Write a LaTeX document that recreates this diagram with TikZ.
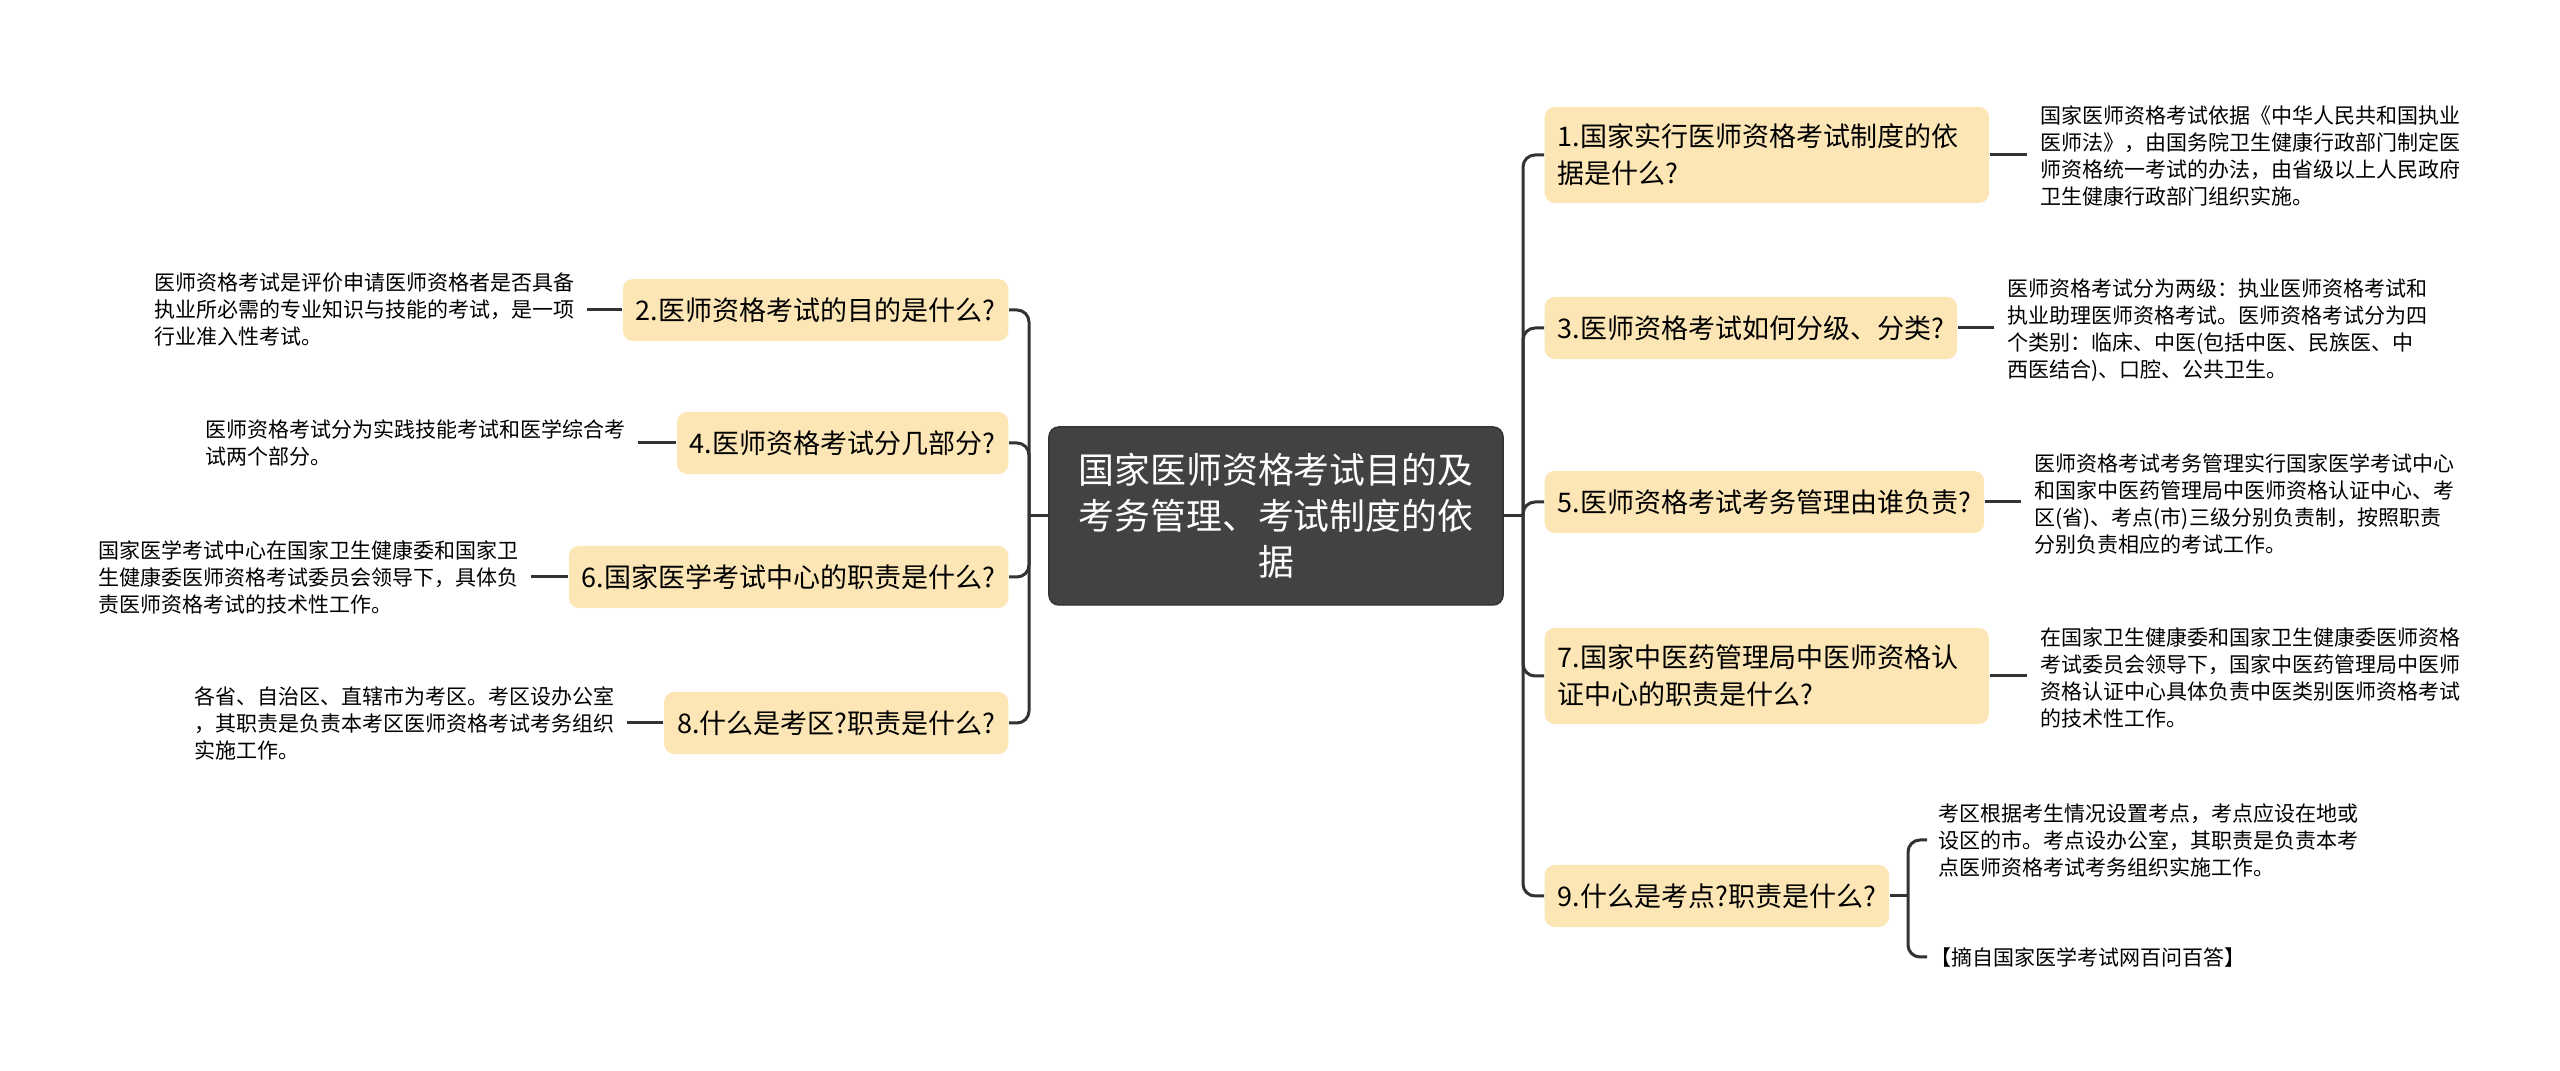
\documentclass[tikz,border=0pt]{standalone}
\usepackage{fontspec}
\newfontfamily\cjk{Noto Sans CJK SC}
\usetikzlibrary{positioning}
\definecolor{mcream}{RGB}{253, 230, 181}
\definecolor{mdark}{RGB}{66, 66, 66}
\definecolor{mline}{RGB}{51, 51, 51}
\tikzset{rootbox/.style = {fill=mdark, draw=mline, rounded corners=1mm, text=white,
                           align=center, font=\cjk\fontsize{10.2pt}{13.1pt}\selectfont,
                           minimum width=45.4mm, minimum height=17.8mm, inner sep=0}}
\tikzset{qbox/.style = {fill=mcream, rounded corners=1mm, align=left,
                        font=\cjk\fontsize{7.68pt}{10.5pt}\selectfont,
                        inner xsep=1.3mm, inner ysep=1.7mm, minimum height=6.2mm}}
\tikzset{desc/.style = {align=left, inner sep=0,
                        font=\cjk\fontsize{5.97pt}{7.68pt}\selectfont}}
\tikzset{link/.style = {draw=mline, line width=0.3mm}}

\begin{document}
\begin{tikzpicture}[x=0.01cm, y=-0.01cm]
    \useasboundingbox (0, 0) rectangle (2560, 1071);

    \node [rootbox] (root) at (1276, 516) {国家医师资格考试目的及\\考务管理、考试制度的依\\据};
    \coordinate (ltrunk) at (1029, 516);
    \coordinate (rtrunk) at (1523, 516);

    % left side
    \node [qbox, anchor=east] (q2) at (1009, 310) {2.医师资格考试的目的是什么?};
    \node [qbox, anchor=east] (q4) at (1009, 443) {4.医师资格考试分几部分?};
    \node [qbox, anchor=east] (q6) at (1009, 577) {6.国家医学考试中心的职责是什么?};
    \node [qbox, anchor=east] (q8) at (1009, 723) {8.什么是考区?职责是什么?};

    \node [desc, anchor=east] (d2) at (575, 310) {医师资格考试是评价申请医师资格者是否具备\\执业所必需的专业知识与技能的考试，是一项\\行业准入性考试。};
    \node [desc, anchor=east] (d4) at (626, 443) {医师资格考试分为实践技能考试和医学综合考\\试两个部分。};
    \node [desc, anchor=east] (d6) at (519, 577) {国家医学考试中心在国家卫生健康委和国家卫\\生健康委医师资格考试委员会领导下，具体负\\责医师资格考试的技术性工作。};
    \node [desc, anchor=east] (d8) at (615, 723) {各省、自治区、直辖市为考区。考区设办公室\\，其职责是负责本考区医师资格考试考务组织\\实施工作。};

    % right side
    \node [qbox, anchor=west, text width=41.8mm] (q1) at (1544, 155) {1.国家实行医师资格考试制度的依\\据是什么?};
    \node [qbox, anchor=west] (q3) at (1544, 328) {3.医师资格考试如何分级、分类?};
    \node [qbox, anchor=west] (q5) at (1544, 502) {5.医师资格考试考务管理由谁负责?};
    \node [qbox, anchor=west, text width=41.8mm] (q7) at (1544, 676) {7.国家中医药管理局中医师资格认\\证中心的职责是什么?};
    \node [qbox, anchor=west] (q9) at (1544, 896) {9.什么是考点?职责是什么?};

    \node [desc, anchor=west] (d1) at (2040, 156) {国家医师资格考试依据《中华人民共和国执业\\医师法》，由国务院卫生健康行政部门制定医\\师资格统一考试的办法，由省级以上人民政府\\卫生健康行政部门组织实施。};
    \node [desc, anchor=west] (d3) at (2007, 330) {医师资格考试分为两级：执业医师资格考试和\\执业助理医师资格考试。医师资格考试分为四\\个类别：临床、中医(包括中医、民族医、中\\西医结合)、口腔、公共卫生。};
    \node [desc, anchor=west] (d5) at (2034, 504) {医师资格考试考务管理实行国家医学考试中心\\和国家中医药管理局中医师资格认证中心、考\\区(省)、考点(市)三级分别负责制，按照职责\\分别负责相应的考试工作。};
    \node [desc, anchor=west] (d7) at (2040, 678) {在国家卫生健康委和国家卫生健康委医师资格\\考试委员会领导下，国家中医药管理局中医师\\资格认证中心具体负责中医类别医师资格考试\\的技术性工作。};
    \node [desc, anchor=west] (d9a) at (1938, 840) {考区根据考生情况设置考点，考点应设在地或\\设区的市。考点设办公室，其职责是负责本考\\点医师资格考试考务组织实施工作。};
    \node [desc, anchor=west] (d9b) at (1930, 957) {【摘自国家医学考试网百问百答】};
    \coordinate (j9) at (1908, 896);

    % connectors
    \draw [link] (root.west) -- (ltrunk);
    \draw [link] (root.east) -- (rtrunk);
    \foreach \q in {q2, q4, q6, q8}
      \draw [link, rounded corners=1.2mm] (ltrunk) |- (\q.east);
    \foreach \q in {q1, q3, q5, q7, q9}
      \draw [link, rounded corners=1.2mm] (rtrunk) |- (\q.west);

    \foreach \q/\d in {q2/d2, q4/d4, q6/d6, q8/d8}
      \draw [link, shorten >=1.2mm] (\q.west) -- (\q.west -| \d.east);
    \foreach \q/\d in {q1/d1, q3/d3, q5/d5, q7/d7}
      \draw [link, shorten >=1.3mm] (\q.east) -- (\q.east -| \d.west);

    \draw [link] (q9.east) -- (j9);
    \draw [link, rounded corners=1.2mm, shorten >=1.1mm] (j9) |- (d9a.west);
    \draw [link, rounded corners=1.2mm, shorten >=0.3mm] (j9) |- (d9b.west);
  \end{tikzpicture}
\end{document}
